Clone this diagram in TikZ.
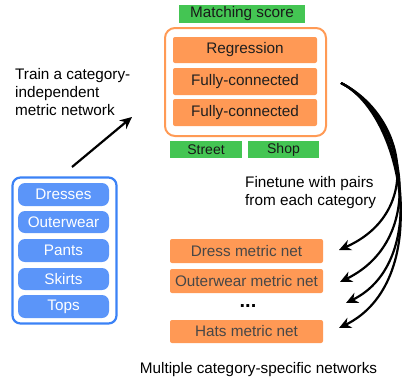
\documentclass[tikz,border=0pt]{standalone}
\usepackage{fontspec}
\setmainfont{Liberation Sans}
\usetikzlibrary{arrows.meta}
\definecolor{orfill}{HTML}{FF9955}
\definecolor{orline}{HTML}{FF9A55}
\definecolor{grfill}{HTML}{44C553}
\definecolor{blfill}{HTML}{5B95F9}
\definecolor{blline}{HTML}{3B82F6}
\tikzset{
  txt/.style={font=\fontsize{15.3}{18}\selectfont},
  orbox/.style={txt, fill=orfill, rounded corners=2pt, inner sep=0pt, text=black!88},
  netbox/.style={txt, fill=orfill, rounded corners=2pt, inner sep=0pt, text=black!72},
  grbox/.style={txt, fill=grfill, inner sep=0pt, text=black!90},
  catbox/.style={txt, fill=blfill, rounded corners=7pt, inner sep=0pt, text=white, minimum width=91pt},
  arr/.style={line width=2.2pt, -{Stealth[length=12pt,width=11pt]}},
}
\begin{document}
\begin{tikzpicture}[x=1pt,y=-1pt]
\useasboundingbox (0,0) rectangle (406,381);
% top network
\node[grbox, minimum width=126pt, minimum height=18pt] (score) at (242,14) {Matching score};
\node[draw=orline, line width=2pt, rounded corners=10pt, minimum width=161pt, minimum height=108pt, inner sep=0pt] (net) at (245.5,82) {};
\node[orbox, minimum width=144pt, minimum height=26pt] (reg) at (245,50) {Regression};
\node[orbox, minimum width=144pt, minimum height=27pt] (fc1) at (245,81.5) {Fully-connected};
\node[orbox, minimum width=144pt, minimum height=27pt] (fc2) at (245,112.5) {Fully-connected};
\node[grbox, font=\fontsize{14}{16}\selectfont, minimum width=72pt, minimum height=17pt] (street) at (206,149.5) {Street};
\node[grbox, font=\fontsize{14}{16}\selectfont, minimum width=71pt, minimum height=17pt] (shop) at (283.5,149.5) {Shop};
% categories
\node[draw=blline, line width=2.2pt, rounded corners=8pt, minimum width=104pt, minimum height=146pt, inner sep=0pt] (cats) at (64.5,250.5) {};
\node[catbox, minimum height=23pt] (dresses) at (63.5,194.5) {Dresses};
\node[catbox, minimum height=22pt] (outer) at (63.5,222) {Outerwear};
\node[catbox, minimum height=23pt] (pants) at (63.5,250.5) {Pants};
\node[catbox, minimum height=22pt] (skirts) at (63.5,279) {Skirts};
\node[catbox, minimum height=23pt] (tops) at (63.5,306.5) {Tops};
% metric nets
\node[netbox, minimum width=153pt, minimum height=24pt] (dressnet) at (246.5,251) {Dress metric net};
\node[netbox, minimum width=153pt, minimum height=24pt] (outernet) at (246.5,281) {Outerwear metric net};
\node[font=\fontsize{20}{22}\selectfont\bfseries, inner sep=0pt, text height=3pt, text depth=0pt] (dots) at (248,306) {...};
\node[netbox, minimum width=153pt, minimum height=23pt] (hatsnet) at (246.5,331.5) {Hats metric net};
% labels
\node[txt, anchor=north west, align=left, inner sep=0pt] (train) at (15,68) {Train a category-\\independent\\metric network};
\node[txt, anchor=north west, align=left, inner sep=0pt] (fine) at (245,176) {Finetune with pairs\\from each category};
\node[txt, inner sep=0pt] (multi) at (258.5,370) {Multiple category-specific networks};
% arrows
\coordinate (a0) at (72,167);
\coordinate (a1) at (132,117);
\draw[arr] (a0) -- (a1);
\coordinate (s) at (341,83);
\coordinate (e1) at (339,250);
\coordinate (e2) at (340,282);
\coordinate (e3) at (346,303);
\coordinate (e4) at (339,328);
\draw[arr] (s) .. controls (405,115) and (425,212) .. (e1);
\draw[arr] (s) .. controls (405,115) and (430,238) .. (e2);
\draw[arr] (s) .. controls (405,115) and (430,262) .. (e3);
\draw[arr] (s) .. controls (405,115) and (433,282) .. (e4);
\end{tikzpicture}
\end{document}
